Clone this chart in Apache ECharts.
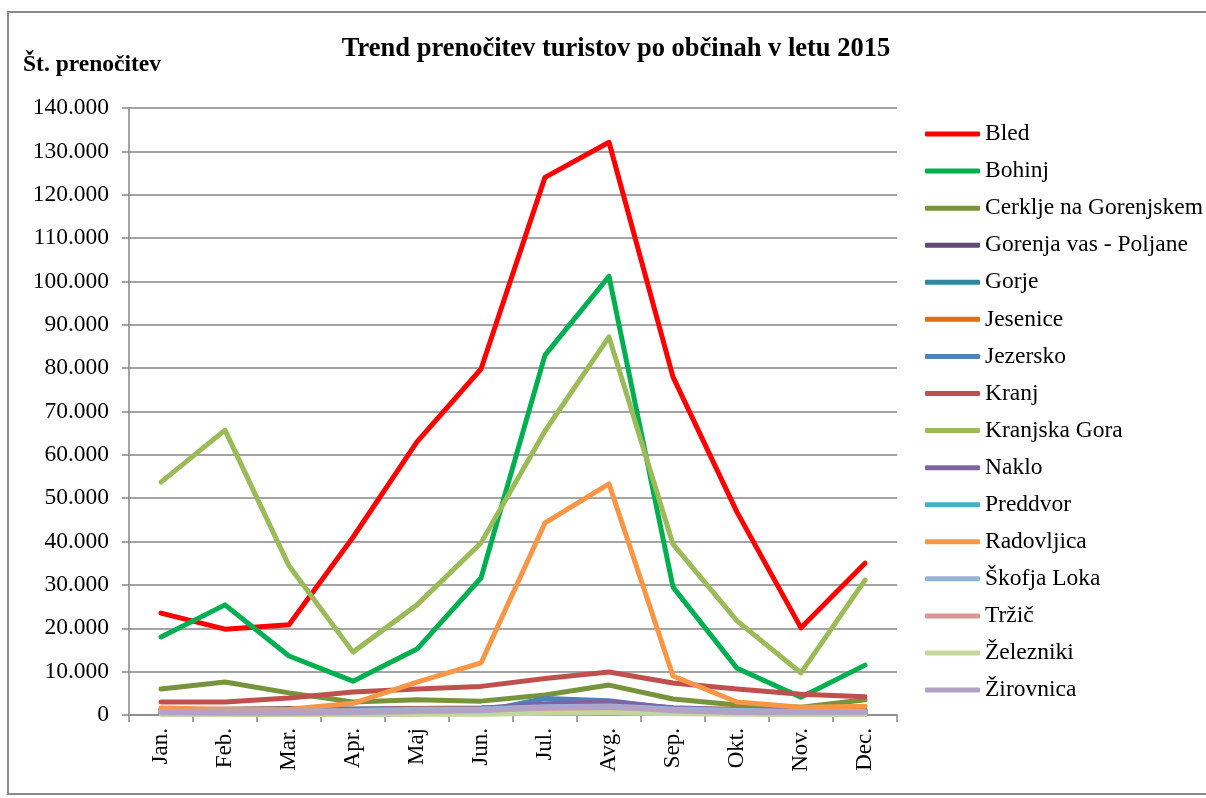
<!DOCTYPE html>
<html><head><meta charset="utf-8">
<script src="https://cdn.jsdelivr.net/npm/echarts@6/dist/echarts.min.js"></script>
<style>html,body{margin:0;padding:0;background:#fff}#c{width:1206px;height:798px}</style>
</head><body><div id="c"></div>
<script>
const months = ['Jan.','Feb.','Mar.','Apr.','Maj','Jun.','Jul.','Avg.','Sep.','Okt.','Nov.','Dec.'];
const yTicks = [0,10000,20000,30000,40000,50000,60000,70000,80000,90000,100000,110000,120000,130000,140000];
const names = ['Bled','Bohinj','Cerklje na Gorenjskem','Gorenja vas - Poljane','Gorje','Jesenice','Jezersko','Kranj','Kranjska Gora','Naklo','Preddvor','Radovljica','Škofja Loka','Tržič','Železniki','Žirovnica'];
const colors = ['#FF0000','#00B050','#77933C','#604A7B','#31859C','#E46C0A','#4F81BD','#C0504D','#9BBB59','#8064A2','#4BACC6','#F79646','#95B3D7','#D99694','#C3D69B','#B3A2C7'];
const bled = [23500,19800,20800,41000,63000,79800,124000,132100,78000,46800,20100,35000];
const bohinj = [18000,25400,13600,7800,15200,31600,83000,101200,29500,10800,4100,11500];
const cerklje = [6000,7600,5100,3000,3500,3200,4600,6900,3700,2300,1800,3500];
const gorenjaVas = [1200,1300,1500,1400,1500,1600,2200,2400,1400,1200,900,1100];
const gorje = [600,500,400,500,700,900,1500,1800,800,400,200,500];
const jesenice = [1200,1100,1100,1200,1400,1500,2000,2200,1500,1300,1100,1200];
const jezersko = [300,300,200,100,300,800,3800,3300,1500,800,200,200];
const kranj = [3000,3000,3900,5300,6000,6600,8400,9900,7400,6000,4800,4200];
const kranjskaGora = [53700,65700,34400,14500,25400,39700,65500,87200,39400,21700,9700,31100];
const naklo = [700,800,900,900,1200,1500,2600,3000,1700,1200,900,800];
const preddvor = [400,400,300,400,600,900,1600,1800,800,500,300,400];
const radovljica = [1600,1300,1300,2700,7600,12000,44300,53300,9000,3000,1800,2000];
const skofjaLoka = [800,900,900,1000,1300,1400,1900,2100,1400,1100,800,800];
const trzic = [500,500,500,500,700,900,1300,1500,900,600,400,500];
const zelezniki = [200,200,100,100,200,200,400,500,300,200,100,100];
const zirovnica = [500,400,400,500,800,1000,1700,1900,1000,600,500,600];
const allData = [bled,bohinj,cerklje,gorenjaVas,gorje,jesenice,jezersko,kranj,kranjskaGora,naklo,preddvor,radovljica,skofjaLoka,trzic,zelezniki,zirovnica];

const serif = '"Liberation Serif","Times New Roman",serif';
const chart = echarts.init(document.getElementById('c'));
chart.setOption({
  animation: false,
  backgroundColor: '#fff',
  color: colors,
  title: [
    {text: 'Trend prenočitev turistov po občinah v letu 2015', left: 611, top: 31, textAlign: 'center',
     textStyle: {fontFamily: serif, fontWeight: 'bold', fontSize: 26.5, color: '#000'}},
    {text: 'Št. prenočitev', left: 18, top: 48,
     textStyle: {fontFamily: serif, fontWeight: 'bold', fontSize: 23.5, color: '#000'}}
  ],
  graphic: [{type: 'rect', shape: {x: 8, y: 12, width: 1210, height: 782}, style: {fill: 'none', stroke: '#8a8a8a', lineWidth: 2}, silent: true}],
  legend: {
    orient: 'vertical', left: 920, top: 117, itemWidth: 55, itemHeight: 5, itemGap: 13.07, icon: 'roundRect',
    data: names,
    textStyle: {fontFamily: serif, fontSize: 23.5, color: '#000', padding: [0,0,0,0]}
  },
  grid: {left: 129, right: 309, top: 108, bottom: 83},
  xAxis: {
    type: 'category', data: months, boundaryGap: true,
    axisLine: {lineStyle: {color: '#868686', width: 1.5}},
    axisTick: {show: true, length: 7, alignWithLabel: false, lineStyle: {color: '#868686', width: 1.5}},
    axisLabel: {rotate: 90, fontFamily: serif, fontSize: 23, color: '#000', margin: 13, interval: 0}
  },
  yAxis: {
    type: 'value', min: 0, max: 140000, interval: 10000,
    axisLine: {show: true, lineStyle: {color: '#868686', width: 1.5}},
    axisTick: {show: true, length: 7, lineStyle: {color: '#868686', width: 1.5}},
    splitLine: {lineStyle: {color: '#868686', width: 1.5}},
    axisLabel: {fontFamily: serif, fontSize: 23.5, color: '#000', margin: 20,
      formatter: v => v === 0 ? '0' : (v/1000) + '.000'}
  },
  series: names.map((n, i) => ({
    name: n, type: 'line', data: allData[i], symbol: 'none', smooth: false,
    lineStyle: {width: 5, color: colors[i], cap: 'round', join: 'round'},
    itemStyle: {color: colors[i]}, z: 2 + i
  }))
});
</script></body></html>
